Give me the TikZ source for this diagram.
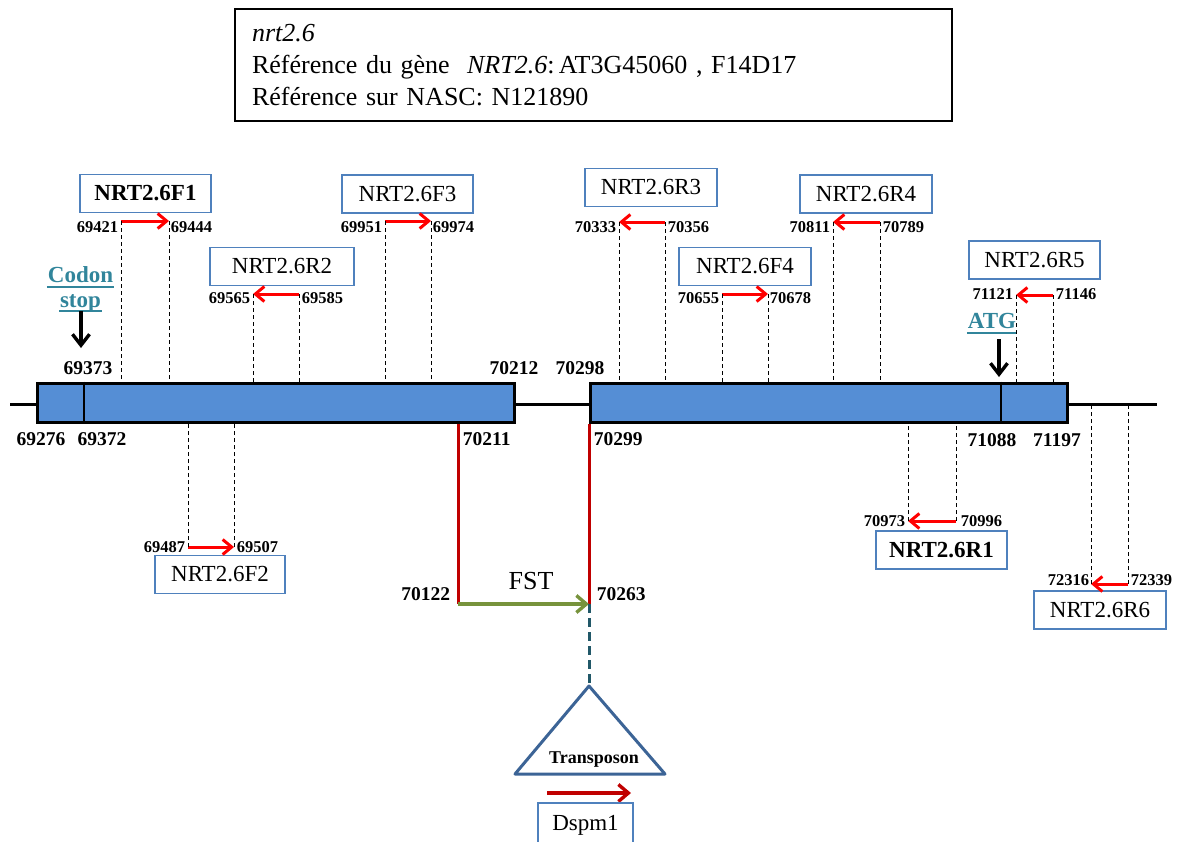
\documentclass[tikz,border=0pt]{standalone}
\usepackage{fontspec}
\setmainfont{Liberation Serif}
\usetikzlibrary{arrows.meta}

\definecolor{exonblue}{RGB}{85,142,213}
\definecolor{boxblue}{RGB}{79,129,189}
\definecolor{markteal}{RGB}{49,133,155}
\definecolor{cutred}{RGB}{192,0,0}
\definecolor{fstgreen}{RGB}{119,147,60}
\definecolor{insteal}{RGB}{33,88,104}
\definecolor{trblue}{RGB}{60,100,150}

\begin{document}
\begin{tikzpicture}[x=1pt,y=1pt,yscale=-1,
    exon/.style={draw=black,line width=3,fill=exonblue,minimum height=39,inner sep=0},
    primerbox/.style={draw=boxblue,line width=1.3,minimum width=131,minimum height=38,inner sep=0,font=\fontsize{23}{23}\selectfont},
    posnum/.style={inner sep=0.75pt,font=\bfseries\fontsize{16.5}{16.5}\selectfont},
    bignum/.style={inner sep=0.75pt,font=\bfseries\fontsize{19.5}{19.5}\selectfont},
    guide/.style={line width=0.9,dash pattern=on 4pt off 3pt},
    primer/.style={red,line width=3,-{Straight Barb[length=9pt,width=15pt]}},
    marker/.style={inner sep=0.75pt,text=markteal,font=\bfseries\fontsize{23}{23}\selectfont},
    markarrow/.style={black,line width=3.4,-{Straight Barb[length=11pt,width=17pt]}},
    cutline/.style={cutred,line width=3},
]
\useasboundingbox (0,0) rectangle (1182,841);

% Header
\node [draw,line width=1.8,minimum width=717,minimum height=112,text width=683,inner xsep=17,align=left,font=\fontsize{26}{32}\selectfont] (header) at (593.5,65) {\textit{nrt2.6}\\Référence du gène~ \textit{NRT2.6}:\,AT3G45060 , F14D17\\Référence sur NASC: N121890};

%Gene line
\coordinate (lineL) at (10,404);
\coordinate (lineR) at (1157,404);
\draw [line width=3] (lineL) -- (lineR);

%Exons
\node [exon,minimum width=477] (exonA) at (275.5,402.5) {};
\node [exon,minimum width=477] (exonB) at (828.5,402.5) {};
\coordinate (stopcut) at (84,402.5);
\coordinate (atgcut) at (1001,402.5);
\draw [line width=2.5] (stopcut |- exonA.north) -- (stopcut |- exonA.south);
\draw [line width=2.5] (atgcut |- exonB.north) -- (atgcut |- exonB.south);

% Codon stop / ATG
\node [marker] (codon) at (80.5,275) {Codon};
\node [marker] (stop) at (80.5,303) {stop};
\draw [markteal,line width=2] ([yshift=4pt]codon.base west) -- ([yshift=4pt]codon.base east);
\draw [markteal,line width=2] ([yshift=4pt]stop.base west) -- ([yshift=4pt]stop.base east);
\coordinate (stoptip) at (81,348);
\draw [markarrow] (81,311) -- (stoptip);
\node [marker] (atg) at (992,321) {ATG};
\draw [markteal,line width=2] ([yshift=4pt]atg.base west) -- ([yshift=4pt]atg.base east);
\coordinate (atgtip) at (999,377);
\draw [markarrow] (999,339) -- (atgtip);

% Exon positions
\node [bignum] (p69373) at (88,368) {69373};
\node [bignum] (p70212) at (514,368) {70212};
\node [bignum] (p70298) at (580,368) {70298};
\node [bignum] (p69276) at (41,439) {69276};
\node [bignum] (p69372) at (102,439) {69372};
\node [bignum,anchor=west] (p70211) at (462,439) {70211};
\node [bignum,anchor=west] (p70299) at (593,439) {70299};
\node [bignum] (p71088) at (992,440) {71088};
\node [bignum] (p71197) at (1057,440) {71197};

% Primer F1
\node [primerbox,font=\bfseries\fontsize{23}{23}\selectfont] (f1) at (145.5,193.5) {NRT2.6F1};
\coordinate (f1L) at (121,221);
\coordinate (f1R) at (169,221);
\draw [primer] (f1L) -- (f1R);
\draw [guide] (f1L) -- (f1L |- exonA.north);
\draw [guide] (f1R) -- (f1R |- exonA.north);
\node [posnum,anchor=east] (n69421) at (119,227) {69421};
\node [posnum,anchor=west] (n69444) at (170,227) {69444};

% Primer R2
\node [primerbox,minimum width=144] (r2) at (282,266.5) {NRT2.6R2};
\coordinate (r2L) at (253,294);
\coordinate (r2R) at (299,294);
\draw [primer] (r2R) -- (r2L);
\draw [guide] (r2L) -- (r2L |- exonA.north);
\draw [guide] (r2R) -- (r2R |- exonA.north);
\node [posnum,anchor=east] (n69565) at (251,298) {69565};
\node [posnum,anchor=west] (n69585) at (301,298) {69585};

% Primer F3
\node [primerbox] (f3) at (407.5,194) {NRT2.6F3};
\coordinate (f3L) at (385,221);
\coordinate (f3R) at (431,221);
\draw [primer] (f3L) -- (f3R);
\draw [guide] (f3L) -- (f3L |- exonA.north);
\draw [guide] (f3R) -- (f3R |- exonA.north);
\node [posnum,anchor=east] (n69951) at (383,227) {69951};
\node [posnum,anchor=west] (n69974) at (432,227) {69974};

% Primer F2
\node [primerbox,minimum width=130] (f2) at (220,574.5) {NRT2.6F2};
\coordinate (f2L) at (188,547);
\coordinate (f2R) at (234,547);
\draw [primer] (f2L) -- (f2R);
\draw [guide] (f2L) -- (f2L |- exonA.south);
\draw [guide] (f2R) -- (f2R |- exonA.south);
\node [posnum,anchor=east] (n69487) at (186,547) {69487};
\node [posnum,anchor=west] (n69507) at (236,547) {69507};

% Primer R3
\node [primerbox,minimum width=132] (r3) at (651,187.5) {NRT2.6R3};
\coordinate (r3L) at (619,222);
\coordinate (r3R) at (665,222);
\draw [primer] (r3R) -- (r3L);
\draw [guide] (r3L) -- (r3L |- exonB.north);
\draw [guide] (r3R) -- (r3R |- exonB.north);
\node [posnum,anchor=east] (n70333) at (617,227) {70333};
\node [posnum,anchor=west] (n70356) at (667,227) {70356};

% Primer F4
\node [primerbox,minimum width=132] (f4) at (745,266.5) {NRT2.6F4};
\coordinate (f4L) at (722,294);
\coordinate (f4R) at (768,294);
\draw [primer] (f4L) -- (f4R);
\draw [guide] (f4L) -- (f4L |- exonB.north);
\draw [guide] (f4R) -- (f4R |- exonB.north);
\node [posnum,anchor=east] (n70655) at (720,298) {70655};
\node [posnum,anchor=west] (n70678) at (769,298) {70678};

% Primer R4
\node [primerbox,minimum width=132] (r4) at (866,194) {NRT2.6R4};
\coordinate (r4L) at (833,222);
\coordinate (r4R) at (880,222);
\draw [primer] (r4R) -- (r4L);
\draw [guide] (r4L) -- (r4L |- exonB.north);
\draw [guide] (r4R) -- (r4R |- exonB.north);
\node [posnum,anchor=east] (n70811) at (831,227) {70811};
\node [posnum,anchor=west] (n70789) at (882,227) {70789};

% Primer R5
\node [primerbox] (r5) at (1034.5,260) {NRT2.6R5};
\coordinate (r5L) at (1016,295);
\coordinate (r5R) at (1053,295);
\draw [primer] (r5R) -- (r5L);
\draw [guide] (r5L) -- (r5L |- exonB.north);
\draw [guide] (r5R) -- (r5R |- exonB.north);
\node [posnum,anchor=east] (n71121) at (1014,294) {71121};
\node [posnum,anchor=west] (n71146) at (1055,294) {71146};

% Primer R1
\node [primerbox,font=\bfseries\fontsize{23}{23}\selectfont] (r1) at (941.5,550) {NRT2.6R1};
\coordinate (r1L) at (908,521);
\coordinate (r1R) at (956,521);
\draw [primer] (r1R) -- (r1L);
\draw [guide] (r1L) -- (r1L |- exonB.south);
\draw [guide] (r1R) -- (r1R |- exonB.south);
\node [posnum,anchor=east] (n70973) at (906,521) {70973};
\node [posnum,anchor=west] (n70996) at (960,521) {70996};

% Primer R6
\node [primerbox,minimum width=132] (r6) at (1100,610) {NRT2.6R6};
\coordinate (r6L) at (1091,584);
\coordinate (r6R) at (1128,584);
\draw [primer] (r6R) -- (r6L);
\draw [guide] (r6L) -- (r6L |- lineR);
\draw [guide] (r6R) -- (r6R |- lineR);
\node [posnum,anchor=east] (n72316) at (1090,580) {72316};
\node [posnum,anchor=west] (n72339) at (1130,580) {72339};

% Insertion site
\coordinate (cutA) at (458,604);
\coordinate (cutB) at (589,604);
\draw [cutline] (cutA |- exonA.south) -- (cutA);
\draw [cutline] (cutB |- exonB.south) -- (cutB);
\draw [fstgreen,line width=3.4,-{Straight Barb[length=10pt,width=17pt]}] (cutA) -- (cutB);
\node [inner sep=0.75pt,font=\fontsize{26}{26}\selectfont] (fst) at (531,581) {FST};
\node [bignum,anchor=east] (p70122) at (451,594) {70122};
\node [bignum,anchor=west] (p70263) at (596,594) {70263};

% Transposon
\coordinate (tApex) at (589,686);
\coordinate (tLeft) at (515,774);
\coordinate (tRight) at (665,774);
\draw [insteal,line width=3,dash pattern=on 9pt off 5pt] (cutB) -- (tApex);
\draw [trblue,line width=3,line join=round] (tApex) -- (tLeft) -- (tRight) -- cycle;
\node [inner sep=0.75pt,font=\bfseries\fontsize{18}{18}\selectfont] (transposon) at (594,760) {Transposon};
\coordinate (dsA) at (547,793);
\coordinate (dsB) at (631,793);
\draw [cutred,line width=3.4,-{Straight Barb[length=10pt,width=17pt]}] (dsA) -- (dsB);
\node [primerbox,minimum width=95,minimum height=44] (dspm) at (585.5,825) {Dspm1};

\end{tikzpicture}
\end{document}
